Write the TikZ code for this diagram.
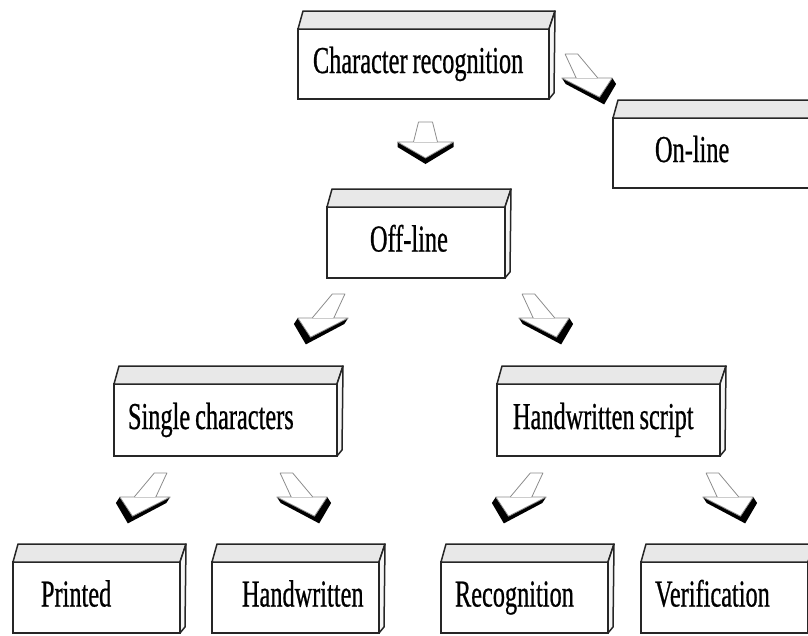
\documentclass[tikz,border=0pt]{standalone}
\usepackage{fontspec}
\setmainfont{Liberation Serif}[FakeStretch=0.64, FakeBold=0.6]
\usetikzlibrary{calc}
\newcommand{\boxfont}{\fontsize{38}{40}\selectfont\spaceskip=5pt\relax}
\tikzset{
  every picture/.style={line width=1.5pt},
  fface/.style={draw=black!85, fill=white, anchor=north west, outer sep=0pt,
                inner ysep=0pt, text height=26pt, text depth=8pt,
                font=\boxfont},
  tface/.style={draw=black!85, fill=gray!18, line join=round},
  sface/.style={draw=black!85, fill=gray!8, line join=round},
  ldarrow/.style={xslant=0.65, yscale=1.2, xscale=0.9},
  rdarrow/.style={xslant=-0.65, yscale=1.2, xscale=0.9},
  blockarrow/.pic={
    \fill[black] (-28,0) -- (0,16) -- (28,0) -- (28,5) -- (0,22) -- (-28,5) -- cycle;
    \draw[black!45, line width=0.8pt, fill=white, line join=round]
      (-7,-20) -- (7,-20) -- (12,0) -- (28,0) -- (0,16) -- (-28,0) -- (-12,0) -- cycle;
    \draw[black!20, line width=0.6pt] (-12,0) -- (12,0);
  },
}

\begin{document}
\begin{tikzpicture}[x=1pt, y=-1pt]
  \clip (0,0) rectangle (808,635);
  % front faces
  \node[fface, minimum width=251pt, minimum height=70pt, inner xsep=15pt]
    (cr) at (298,29) {\makebox[221pt][l]{Character recognition}};
  \node[fface, minimum width=207pt, minimum height=70pt, inner xsep=42pt]
    (on) at (613,118) {\makebox[123pt][l]{On-line}};
  \node[fface, minimum width=178pt, minimum height=71pt, inner xsep=43pt]
    (off) at (327,207) {\makebox[92pt][l]{Off-line}};
  \node[fface, minimum width=223pt, minimum height=72pt, inner xsep=14pt]
    (sc) at (114,384) {\makebox[195pt][l]{Single characters}};
  \node[fface, minimum width=223pt, minimum height=72pt, inner xsep=16pt]
    (hs) at (497,384) {\makebox[191pt][l]{Handwritten script}};
  \node[fface, minimum width=167pt, minimum height=71pt, inner xsep=28pt]
    (pr) at (13,562) {\makebox[111pt][l]{Printed}};
  \node[fface, minimum width=167pt, minimum height=71pt, inner xsep=30pt]
    (hw) at (212,562) {\makebox[107pt][l]{Handwritten}};
  \node[fface, minimum width=167pt, minimum height=71pt, inner xsep=14pt]
    (rc) at (441,562) {\makebox[139pt][l]{Recognition}};
  \node[fface, minimum width=167pt, minimum height=71pt, inner xsep=14pt]
    (ve) at (641,562) {\makebox[139pt][l]{Verification}};
  % top and side faces
  \foreach \n in {cr,on,off,sc,hs,pr,hw,rc,ve}{
    \draw[tface] (\n.north west) -- ++(5,-18) -- ($(\n.north east)+(6,-18)$)
      -- (\n.north east) -- cycle;
    \draw[sface] (\n.north east) -- ++(6,-18) -- ($(\n.south east)+(5,-6)$)
      -- (\n.south east) -- cycle;
  }
  % block arrows
  \pic at (425.5,142) {blockarrow};
  \pic[rdarrow] at (587,78) {blockarrow};
  \pic[ldarrow] at (323,318) {blockarrow};
  \pic[rdarrow] at (544,318) {blockarrow};
  \pic[ldarrow] at (145,497) {blockarrow};
  \pic[rdarrow] at (302,497) {blockarrow};
  \pic[ldarrow] at (521,497) {blockarrow};
  \pic[rdarrow] at (728,497) {blockarrow};
\end{tikzpicture}
\end{document}
